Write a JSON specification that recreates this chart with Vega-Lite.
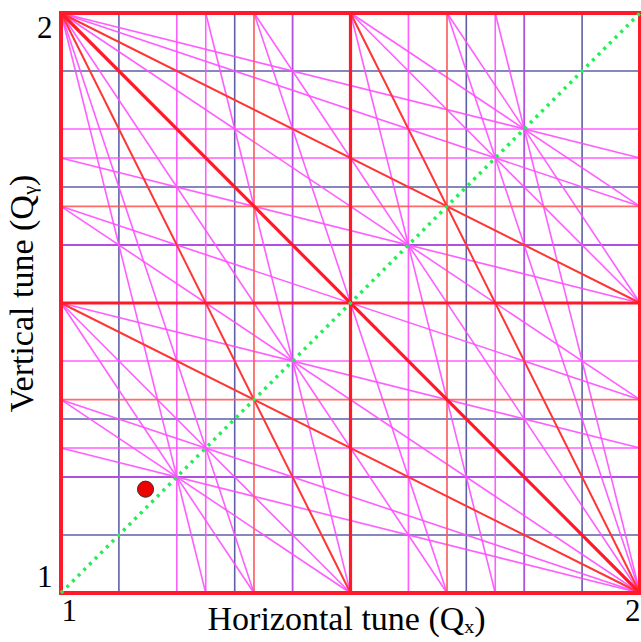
{
  "$schema": "https://vega.github.io/schema/vega-lite/v6.json",
  "width": 579,
  "height": 580,
  "autosize": {"type": "none"},
  "padding": {"left": 61, "top": 13, "right": 1, "bottom": 49},
  "background": "white",
  "config": {"view": {"stroke": null}},
  "datasets": {
    "lines": [
      {"id": "b1", "kind": "blue", "qx": 1.1, "qy": 1}, {"id": "b1", "kind": "blue", "qx": 1.1, "qy": 2},
      {"id": "b2", "kind": "blue", "qx": 1.3, "qy": 1}, {"id": "b2", "kind": "blue", "qx": 1.3, "qy": 2},
      {"id": "b3", "kind": "blue", "qx": 1.7, "qy": 1}, {"id": "b3", "kind": "blue", "qx": 1.7, "qy": 2},
      {"id": "b4", "kind": "blue", "qx": 1.9, "qy": 1}, {"id": "b4", "kind": "blue", "qx": 1.9, "qy": 2},
      {"id": "b5", "kind": "blue", "qx": 1, "qy": 1.1}, {"id": "b5", "kind": "blue", "qx": 2, "qy": 1.1},
      {"id": "b6", "kind": "blue", "qx": 1, "qy": 1.3}, {"id": "b6", "kind": "blue", "qx": 2, "qy": 1.3},
      {"id": "b7", "kind": "blue", "qx": 1, "qy": 1.7}, {"id": "b7", "kind": "blue", "qx": 2, "qy": 1.7},
      {"id": "b8", "kind": "blue", "qx": 1, "qy": 1.9}, {"id": "b8", "kind": "blue", "qx": 2, "qy": 1.9},

      {"id": "p1", "kind": "purple", "qx": 1.4, "qy": 1}, {"id": "p1", "kind": "purple", "qx": 1.4, "qy": 2},
      {"id": "p2", "kind": "purple", "qx": 1.8, "qy": 1}, {"id": "p2", "kind": "purple", "qx": 1.8, "qy": 2},
      {"id": "p3", "kind": "purple", "qx": 1, "qy": 1.2}, {"id": "p3", "kind": "purple", "qx": 2, "qy": 1.2},
      {"id": "p4", "kind": "purple", "qx": 1, "qy": 1.6}, {"id": "p4", "kind": "purple", "qx": 2, "qy": 1.6},

      {"id": "v1", "kind": "magenta", "qx": 1.2, "qy": 1}, {"id": "v1", "kind": "magenta", "qx": 1.2, "qy": 2},
      {"id": "v2", "kind": "magenta", "qx": 1.6, "qy": 1}, {"id": "v2", "kind": "magenta", "qx": 1.6, "qy": 2},
      {"id": "v3", "kind": "magenta", "qx": 1.25, "qy": 1}, {"id": "v3", "kind": "magenta", "qx": 1.25, "qy": 2},
      {"id": "v4", "kind": "magenta", "qx": 1.75, "qy": 1}, {"id": "v4", "kind": "magenta", "qx": 1.75, "qy": 2},
      {"id": "h1", "kind": "magenta", "qx": 1, "qy": 1.4}, {"id": "h1", "kind": "magenta", "qx": 2, "qy": 1.4},
      {"id": "h2", "kind": "magenta", "qx": 1, "qy": 1.8}, {"id": "h2", "kind": "magenta", "qx": 2, "qy": 1.8},
      {"id": "h3", "kind": "magenta", "qx": 1, "qy": 1.25}, {"id": "h3", "kind": "magenta", "qx": 2, "qy": 1.25},
      {"id": "h4", "kind": "magenta", "qx": 1, "qy": 1.75}, {"id": "h4", "kind": "magenta", "qx": 2, "qy": 1.75},

      {"id": "m1", "kind": "magenta", "qx": 1, "qy": 2}, {"id": "m1", "kind": "magenta", "qx": 1.3333, "qy": 1},
      {"id": "m2", "kind": "magenta", "qx": 1.3333, "qy": 2}, {"id": "m2", "kind": "magenta", "qx": 1.6667, "qy": 1},
      {"id": "m3", "kind": "magenta", "qx": 1.6667, "qy": 2}, {"id": "m3", "kind": "magenta", "qx": 2, "qy": 1},
      {"id": "m4", "kind": "magenta", "qx": 1, "qy": 1.3333}, {"id": "m4", "kind": "magenta", "qx": 2, "qy": 1},
      {"id": "m5", "kind": "magenta", "qx": 1, "qy": 1.6667}, {"id": "m5", "kind": "magenta", "qx": 2, "qy": 1.3333},
      {"id": "m6", "kind": "magenta", "qx": 1, "qy": 2}, {"id": "m6", "kind": "magenta", "qx": 2, "qy": 1.6667},
      {"id": "m7", "kind": "magenta", "qx": 1, "qy": 1.5}, {"id": "m7", "kind": "magenta", "qx": 1.5, "qy": 1},
      {"id": "m8", "kind": "magenta", "qx": 1.5, "qy": 2}, {"id": "m8", "kind": "magenta", "qx": 2, "qy": 1.5},

      {"id": "n1", "kind": "magenta", "qx": 1, "qy": 2}, {"id": "n1", "kind": "magenta", "qx": 1.25, "qy": 1},
      {"id": "n2", "kind": "magenta", "qx": 1.25, "qy": 2}, {"id": "n2", "kind": "magenta", "qx": 1.5, "qy": 1},
      {"id": "n3", "kind": "magenta", "qx": 1.5, "qy": 2}, {"id": "n3", "kind": "magenta", "qx": 1.75, "qy": 1},
      {"id": "n4", "kind": "magenta", "qx": 1.75, "qy": 2}, {"id": "n4", "kind": "magenta", "qx": 2, "qy": 1},
      {"id": "n5", "kind": "magenta", "qx": 1, "qy": 1.25}, {"id": "n5", "kind": "magenta", "qx": 2, "qy": 1},
      {"id": "n6", "kind": "magenta", "qx": 1, "qy": 1.5}, {"id": "n6", "kind": "magenta", "qx": 2, "qy": 1.25},
      {"id": "n7", "kind": "magenta", "qx": 1, "qy": 1.75}, {"id": "n7", "kind": "magenta", "qx": 2, "qy": 1.5},
      {"id": "n8", "kind": "magenta", "qx": 1, "qy": 2}, {"id": "n8", "kind": "magenta", "qx": 2, "qy": 1.75},
      {"id": "n9", "kind": "magenta", "qx": 1, "qy": 1.5}, {"id": "n9", "kind": "magenta", "qx": 1.3333, "qy": 1},
      {"id": "n10", "kind": "magenta", "qx": 1, "qy": 2}, {"id": "n10", "kind": "magenta", "qx": 1.6667, "qy": 1},
      {"id": "n11", "kind": "magenta", "qx": 1.3333, "qy": 2}, {"id": "n11", "kind": "magenta", "qx": 2, "qy": 1},
      {"id": "n12", "kind": "magenta", "qx": 1.6667, "qy": 2}, {"id": "n12", "kind": "magenta", "qx": 2, "qy": 1.5},
      {"id": "n13", "kind": "magenta", "qx": 1, "qy": 1.3333}, {"id": "n13", "kind": "magenta", "qx": 1.5, "qy": 1},
      {"id": "n14", "kind": "magenta", "qx": 1, "qy": 1.6667}, {"id": "n14", "kind": "magenta", "qx": 2, "qy": 1},
      {"id": "n15", "kind": "magenta", "qx": 1, "qy": 2}, {"id": "n15", "kind": "magenta", "qx": 2, "qy": 1.3333},
      {"id": "n16", "kind": "magenta", "qx": 1.5, "qy": 2}, {"id": "n16", "kind": "magenta", "qx": 2, "qy": 1.6667},

      {"id": "r1", "kind": "red3", "qx": 1.3333, "qy": 1}, {"id": "r1", "kind": "red3", "qx": 1.3333, "qy": 2},
      {"id": "r2", "kind": "red3", "qx": 1.6667, "qy": 1}, {"id": "r2", "kind": "red3", "qx": 1.6667, "qy": 2},
      {"id": "r3", "kind": "red3", "qx": 1, "qy": 1.3333}, {"id": "r3", "kind": "red3", "qx": 2, "qy": 1.3333},
      {"id": "r4", "kind": "red3", "qx": 1, "qy": 1.6667}, {"id": "r4", "kind": "red3", "qx": 2, "qy": 1.6667},
      {"id": "r5", "kind": "red3d", "qx": 1, "qy": 2}, {"id": "r5", "kind": "red3d", "qx": 1.5, "qy": 1},
      {"id": "r6", "kind": "red3d", "qx": 1.5, "qy": 2}, {"id": "r6", "kind": "red3d", "qx": 2, "qy": 1},
      {"id": "r7", "kind": "red3d", "qx": 1, "qy": 1.5}, {"id": "r7", "kind": "red3d", "qx": 2, "qy": 1},
      {"id": "r8", "kind": "red3d", "qx": 1, "qy": 2}, {"id": "r8", "kind": "red3d", "qx": 2, "qy": 1.5},

      {"id": "s1", "kind": "red2", "qx": 1.5, "qy": 1}, {"id": "s1", "kind": "red2", "qx": 1.5, "qy": 2},
      {"id": "s2", "kind": "red2", "qx": 1, "qy": 1.5}, {"id": "s2", "kind": "red2", "qx": 2, "qy": 1.5},
      {"id": "s3", "kind": "red2", "qx": 1, "qy": 2}, {"id": "s3", "kind": "red2", "qx": 2, "qy": 1},

      {"id": "e1", "kind": "border", "qx": 1, "qy": 1}, {"id": "e1", "kind": "border", "qx": 1, "qy": 2},
      {"id": "e2", "kind": "border", "qx": 2, "qy": 1}, {"id": "e2", "kind": "border", "qx": 2, "qy": 2},
      {"id": "e3", "kind": "border", "qx": 1, "qy": 1}, {"id": "e3", "kind": "border", "qx": 2, "qy": 1},
      {"id": "e4", "kind": "border", "qx": 1, "qy": 2}, {"id": "e4", "kind": "border", "qx": 2, "qy": 2},

      {"id": "g1", "kind": "diag", "qx": 1, "qy": 1}, {"id": "g1", "kind": "diag", "qx": 2, "qy": 2}
    ],
    "point": [{"qx": 1.146, "qy": 1.179}]
  },
  "encoding": {
    "x": {
      "field": "qx", "type": "quantitative",
      "scale": {"domain": [1, 2], "nice": false, "zero": false},
      "axis": {
        "values": [1, 2], "format": "d", "grid": false, "ticks": false, "domain": false,
        "labelFlush": true, "labelFont": "Liberation Serif", "labelFontSize": 31,
        "labelColor": "black", "labelPadding": 3,
        "title": "Horizontal tune (Qₓ)", "titleFont": "Liberation Serif",
        "titleFontSize": 34, "titleFontWeight": "normal", "titleColor": "black",
        "titleX": 285, "titleY": 9
      }
    },
    "y": {
      "field": "qy", "type": "quantitative",
      "scale": {"domain": [1, 2], "nice": false, "zero": false},
      "axis": {
        "values": [1, 2], "format": "d", "grid": false, "ticks": false, "domain": false,
        "labelFlush": true, "labelFont": "Liberation Serif", "labelFontSize": 31,
        "labelColor": "black", "labelPadding": 9,
        "title": "Vertical tune (Qᵧ)", "titleFont": "Liberation Serif",
        "titleFontSize": 34, "titleFontWeight": "normal", "titleColor": "black",
        "titleX": -22, "titleY": 280
      }
    }
  },
  "layer": [
    {
      "data": {"name": "lines"},
      "transform": [{"filter": "datum.kind === 'blue'"}],
      "mark": {"type": "line", "color": "#5f5fa8", "strokeWidth": 1.6},
      "encoding": {"detail": {"field": "id"}}
    },
    {
      "data": {"name": "lines"},
      "transform": [{"filter": "datum.kind === 'purple'"}],
      "mark": {"type": "line", "color": "#b050e0", "strokeWidth": 1.8},
      "encoding": {"detail": {"field": "id"}}
    },
    {
      "data": {"name": "lines"},
      "transform": [{"filter": "datum.kind === 'magenta'"}],
      "mark": {"type": "line", "color": "#ff4cff", "strokeWidth": 1.6, "opacity": 0.9},
      "encoding": {"detail": {"field": "id"}}
    },
    {
      "data": {"name": "lines"},
      "transform": [{"filter": "datum.kind === 'red3'"}],
      "mark": {"type": "line", "color": "#ff5a5a", "strokeWidth": 1.8, "opacity": 0.9},
      "encoding": {"detail": {"field": "id"}}
    },
    {
      "data": {"name": "lines"},
      "transform": [{"filter": "datum.kind === 'red3d'"}],
      "mark": {"type": "line", "color": "#ff3535", "strokeWidth": 2},
      "encoding": {"detail": {"field": "id"}}
    },
    {
      "data": {"name": "lines"},
      "transform": [{"filter": "datum.kind === 'red2'"}],
      "mark": {"type": "line", "color": "#ff1a2a", "strokeWidth": 3.2},
      "encoding": {"detail": {"field": "id"}}
    },
    {
      "data": {"name": "lines"},
      "transform": [{"filter": "datum.kind === 'border'"}],
      "mark": {"type": "line", "color": "#ff1a2a", "strokeWidth": 4, "strokeCap": "square"},
      "encoding": {"detail": {"field": "id"}}
    },
    {
      "data": {"name": "lines"},
      "transform": [{"filter": "datum.kind === 'diag'"}],
      "mark": {"type": "line", "color": "#22ee55", "strokeWidth": 3.5, "strokeDash": [3, 5]},
      "encoding": {"detail": {"field": "id"}}
    },
    {
      "data": {"name": "point"},
      "mark": {"type": "point", "filled": true, "fill": "#ee0000", "stroke": "#333333", "strokeWidth": 1, "size": 260, "opacity": 1, "shape": "circle"},
      "encoding": {}
    }
  ]
}
